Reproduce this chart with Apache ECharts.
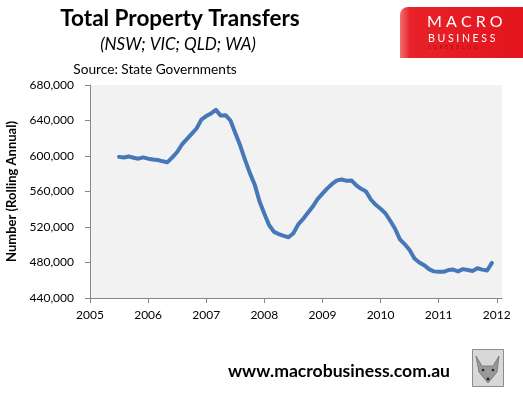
<!DOCTYPE html>
<html>
<head>
<meta charset="utf-8">
<script src="https://cdn.jsdelivr.net/npm/echarts@6/dist/echarts.min.js"></script>
<style>
html,body{margin:0;padding:0;background:#fff;}
#c{width:523px;height:393px;}
</style>
</head>
<body>
<div id="c"></div>
<script>
// Monthly (month-end) rolling-annual property transfers, Jun 2005 .. Nov 2011
var startYear = 2005, startMonth = 6; // June 2005
var values = [
  599000, 598300, 599500, 598000, 597000, 598400, 597000,
  596000, 595500, 594000, 593000, 598500, 604500, 613000, 619000, 625000, 631000, 641000, 645000,
  648000, 652000, 645500, 646000, 640000, 626000, 612000, 596000, 581000, 568000, 549000, 535000,
  522000, 514500, 512000, 510000, 508500, 513000, 523000, 529000, 536000, 543000, 551500, 557500,
  563500, 568500, 572500, 573500, 572000, 572500, 567000, 563000, 560000, 551000, 545000, 540500,
  535500, 527000, 518000, 506000, 500500, 494000, 484500, 480000, 477000, 472500, 470000, 469500,
  469500, 471500, 472000, 470000, 472500, 471500, 470500, 473500, 472000, 471000, 479500
];
var xTickYears = [2005, 2006, 2007, 2008, 2009, 2010, 2011, 2012];
var yTicks = [440000, 480000, 520000, 560000, 600000, 640000, 680000];

var data = values.map(function (v, i) {
  var m = startMonth + i; // month number counted from Jan of startYear = 1
  return [startYear + m / 12, v]; // month-end position as decimal year
});

var chart = echarts.init(document.getElementById('c'), null, {renderer: 'canvas'});
var font = 'Lato, "Open Sans", sans-serif';
chart.setOption({
  animation: false,
  backgroundColor: '#ffffff',
  grid: {left: 90, top: 85, right: 21, bottom: 95, show: true, backgroundColor: '#f2f2f2', borderWidth: 0,
         containLabel: false, outerBoundsMode: 'none'},
  title: [
    {text: 'Total Property Transfers', left: 175, top: 2, textAlign: 'center',
     textStyle: {fontFamily: font, fontSize: 22.5, fontWeight: 'bold', color: '#000'}},
    {text: '(NSW; VIC; QLD; WA)', left: 173, top: 31, textAlign: 'center',
     textStyle: {fontFamily: font, fontSize: 17, fontStyle: 'italic', fontWeight: 'normal', color: '#000'}},
    {text: 'Source: State Governments', left: 150, top: 58, textAlign: 'center',
     textStyle: {fontFamily: font, fontSize: 13.7, fontWeight: 'normal', color: '#000'}}
  ],
  xAxis: {
    type: 'value', min: 2005, max: 2012.09,
    axisLine: {show: true, lineStyle: {color: '#868686', width: 1}},
    axisTick: {show: true, length: 5, customValues: xTickYears, lineStyle: {color: '#868686'}},
    axisLabel: {customValues: xTickYears, margin: 11, fontFamily: font, fontSize: 12, color: '#000',
      formatter: function (v) { return String(Math.round(v)); }},
    splitLine: {show: false}
  },
  yAxis: {
    type: 'value', min: 440000, max: 680000, interval: 40000,
    name: 'Number (Rolling Annual)', nameLocation: 'middle', nameGap: 66, nameRotate: 90,
    nameTextStyle: {fontFamily: font, fontSize: 13, fontWeight: 'bold', color: '#000'},
    axisLine: {show: true, lineStyle: {color: '#868686', width: 1}},
    axisTick: {show: true, length: 5, lineStyle: {color: '#868686'}},
    axisLabel: {margin: 16, fontFamily: font, fontSize: 12, color: '#000',
      formatter: function (v) { return v.toLocaleString('en-US'); }},
    splitLine: {show: false}
  },
  series: [{
    type: 'line', data: data, showSymbol: false, symbol: 'none',
    lineStyle: {color: '#4677b8', width: 4, cap: 'round', join: 'round'}
  }],
  graphic: [
    {type: 'rect', left: 400, top: 7, shape: {width: 123, height: 51, r: [8, 0, 0, 0]},
     style: {fill: new echarts.graphic.LinearGradient(0, 0, 1, 0, [
       {offset: 0, color: '#f07070'}, {offset: 0.08, color: '#e8222a'}, {offset: 1, color: '#e3141c'}])}},
    {type: 'text', left: 427, top: 14, style: {text: 'M A C R O', fill: '#fff', fontFamily: font, fontSize: 16, fontWeight: 'normal'}},
    {type: 'text', left: 428, top: 33, style: {text: 'B U S I N E S S', fill: '#fff', fontFamily: font, fontSize: 10.5}},
    {type: 'text', left: 428, top: 45, style: {text: 'S  U  P  E  R  B  L  O  G', fill: '#9a1015', fontFamily: font, fontSize: 5}},
    {type: 'text', left: 228, top: 362, style: {text: 'www.macrobusiness.com.au', fill: '#000', fontFamily: font, fontSize: 17.6, fontWeight: 'bold'}},
    {type: 'rect', left: 472, top: 349, shape: {width: 31, height: 37},
     style: {fill: '#d8d8d8', stroke: '#8c8c8c', lineWidth: 1}},
    {type: 'polygon', shape: {points: [[476, 356], [482, 366], [487, 366], [493, 366], [499, 356], [497, 372], [488, 383], [479, 372]]},
     style: {fill: '#9a9a9a', stroke: '#555', lineWidth: 0.6}},
    {type: 'circle', shape: {cx: 483, cy: 370, r: 1.3}, style: {fill: '#222'}},
    {type: 'circle', shape: {cx: 493, cy: 370, r: 1.3}, style: {fill: '#222'}},
    {type: 'circle', shape: {cx: 488, cy: 379, r: 1.5}, style: {fill: '#222'}}
  ]
});
</script>
</body>
</html>
